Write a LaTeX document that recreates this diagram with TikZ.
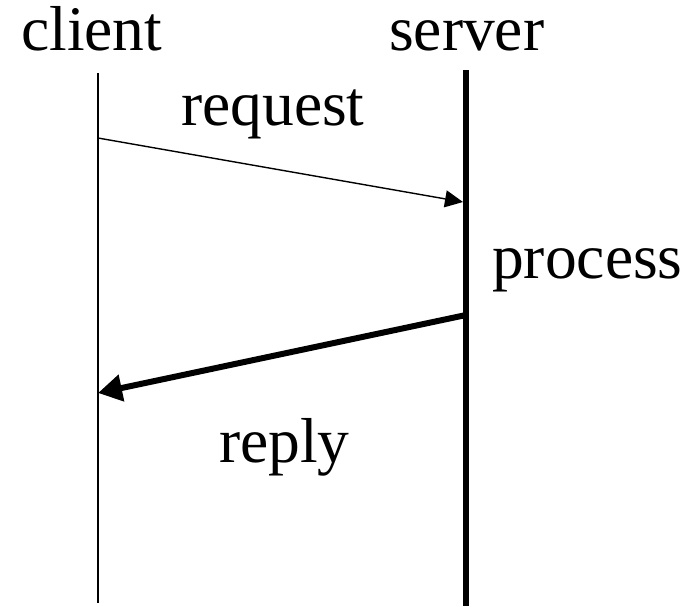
\documentclass[tikz,border=0pt]{standalone}
\usepackage{fontspec}
\setmainfont{Liberation Serif}
\usetikzlibrary{arrows.meta}
\begin{document}
\begin{tikzpicture}[x=1pt,y=-1pt,
  lbl/.style={anchor=base west,inner sep=0pt,font=\fontsize{63.5}{70}\selectfont},
  thinmsg/.style={line width=1.4pt,-{Triangle[length=18pt,width=17pt]}},
  thickmsg/.style={line width=6pt,-{Triangle[length=24pt,width=26pt]}}]
  \useasboundingbox (0,0) rectangle (693,606);
  % lifelines
  \coordinate (ctop) at (98,73);
  \coordinate (cbot) at (98,603);
  \coordinate (stop) at (466,70);
  \coordinate (sbot) at (466,606);
  \draw[line width=2pt] (ctop) -- (cbot);
  \draw[line width=6.5pt] (stop) -- (sbot);
  % message end points
  \coordinate (reqA) at (98,138);
  \coordinate (reqB) at (463,202);
  \coordinate (repA) at (466,315);
  \coordinate (repB) at (98,393);
  \draw[thinmsg] (reqA) -- (reqB);
  \draw[thickmsg] (repA) -- (repB);
  % labels
  \node[lbl] (client) at (21,50) {client};
  \node[lbl] (server) at (389,50) {server};
  \node[lbl] (request) at (181,125) {request};
  \node[lbl] (process) at (492,278) {process};
  \node[lbl] (reply) at (219,462) {reply};
\end{tikzpicture}
\end{document}
